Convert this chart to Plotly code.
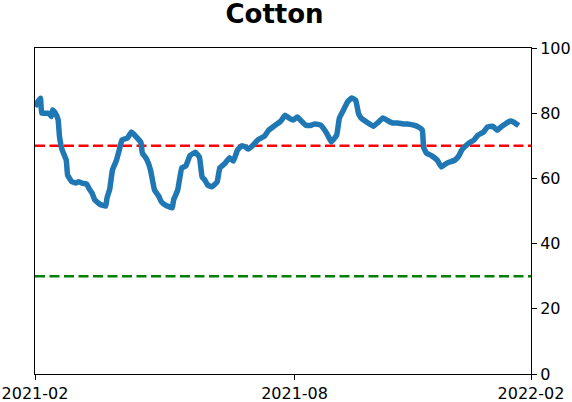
#!/usr/bin/env python3
"""
Cotton sentiment line with 70 / 30 reference levels, redrawn with Plotly.
"""

import pandas as pd
import plotly.graph_objects as go

# Days after the start date, and the reading on each of those days
start_date = "2021-02-01"
day_offsets = [
    0, 2, 4, 5, 10, 12, 13, 15, 17, 18, 20, 23, 24, 27, 30, 32, 35, 38, 40, 42,
    44, 48, 52, 53, 55, 57, 60, 62, 64, 68, 71, 75, 78, 79, 82, 85, 88, 91, 93, 96,
    101, 102, 105, 108, 111, 114, 118, 121, 123, 125, 127, 130, 134, 136, 140, 143, 146, 149, 152, 155,
    157, 160, 164, 169, 172, 177, 181, 184, 187, 190, 193, 196, 199, 202, 206, 210, 212, 215, 218, 222,
    224, 227, 230, 233, 236, 238, 240, 244, 249, 252, 256, 260, 263, 267, 271, 274, 278, 282, 285, 286,
    288, 292, 296, 299, 302, 305, 309, 312, 314, 317, 320, 323, 326, 330, 333, 337, 340, 343, 346, 350,
    352, 356,
]
values = [
    82, 83.5, 84.6, 80, 80, 79, 81, 80, 78, 73, 68.7, 65.6, 61, 59, 58.6, 59, 58.5, 58.3, 56.7, 55.5,
    53.4, 52, 51.5, 54, 56.7, 62.6, 65.6, 68.7, 71.8, 72.4, 74.2, 72.5, 71, 67.8, 66, 62.6, 56.4, 54.6, 52.8, 51.8,
    51, 53.4, 56.4, 63.2, 63.8, 67, 68, 66.5, 60.4, 59.5, 58, 57.4, 58.9, 63.2, 64.7, 66.3, 65.3, 68.7, 70, 69.6,
    69, 70, 71.8, 73, 74.8, 76.4, 77.6, 79.4, 78.5, 77.9, 78.8, 77.6, 76.4, 76.2, 76.7, 76.4, 75.5, 73.6, 71.2, 73.3,
    78.5, 81, 83.5, 84.7, 84, 80, 78.5, 77.3, 76, 77, 78.5, 77.6, 77, 77, 76.7, 76.7, 76.4, 75.8, 74.8, 69.5,
    67.8, 66.9, 65.6, 63.5, 64.4, 65, 65.6, 67, 68.7, 70, 71, 71.8, 73.3, 74.2, 75.8, 76, 74.8, 75.8, 76.7, 77.6,
    77.3, 76.2,
]

upper_level = 70
lower_level = 30

x_range = ["2021-02-01", "2022-02-01"]
tick_dates = ["2021-02-01", "2021-08-11", "2022-02-01"]
tick_labels = ["2021-02", "2021-08", "2022-02"]
y_ticks = [0, 20, 40, 60, 80, 100]

dates = pd.to_datetime(start_date) + pd.to_timedelta(day_offsets, unit="D")

fig = go.Figure()

# Reference levels
fig.add_trace(go.Scatter(
    x=x_range, y=[upper_level, upper_level], mode="lines",
    line=dict(color="#ff0000", width=2.6, dash="10px,4.5px"),
    showlegend=False, hoverinfo="skip",
))
fig.add_trace(go.Scatter(
    x=x_range, y=[lower_level, lower_level], mode="lines",
    line=dict(color="#008000", width=2.6, dash="10px,4.5px"),
    showlegend=False, hoverinfo="skip",
))

# Main series
fig.add_trace(go.Scatter(
    x=dates, y=values, mode="lines",
    line=dict(color="#1f77b4", width=5.5, shape="spline", smoothing=0.3),
    showlegend=False,
))

fig.update_layout(
    width=572,
    height=402,
    margin=dict(l=35, r=41, t=48, b=28, autoexpand=False),
    paper_bgcolor="white",
    plot_bgcolor="white",
    font=dict(family="DejaVu Sans", size=16, color="black"),
    title=dict(
        text="<b>Cotton</b>",
        font=dict(family="DejaVu Sans", size=26, color="black"),
        x=0.48, xanchor="center",
        y=0.965, yanchor="middle",
        automargin=False,
    ),
    xaxis=dict(
        range=x_range,
        tickvals=tick_dates,
        ticktext=tick_labels,
        automargin=False,
        showgrid=False,
        zeroline=False,
        showline=True,
        linecolor="black",
        linewidth=1,
        mirror=True,
        ticks="outside",
        ticklen=5,
        tickcolor="black",
    ),
    yaxis=dict(
        range=[0, 100],
        side="right",
        tickvals=y_ticks,
        automargin=False,
        showgrid=False,
        zeroline=False,
        showline=True,
        linecolor="black",
        linewidth=1,
        mirror=True,
        ticks="outside",
        ticklen=5,
        tickcolor="black",
    ),
)

# drop the browser's default body margin so the figure sits at the page corner
fig.write_html(
    "out.html",
    config={"displayModeBar": False},
    post_script="document.body.style.margin = '0';",
)
